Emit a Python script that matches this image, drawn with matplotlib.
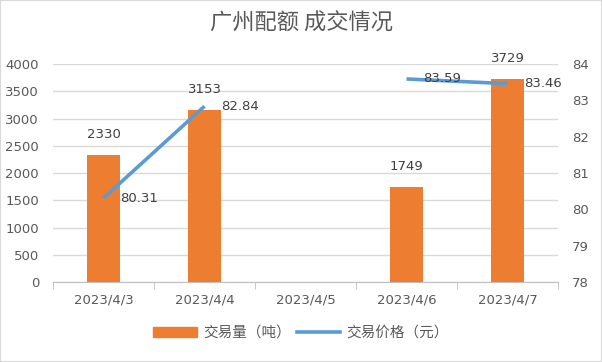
import numpy as np
import matplotlib
matplotlib.use("Agg")
from matplotlib import pyplot as plt

plt.rcParams['font.family'] = ['Noto Sans CJK SC', 'DejaVu Sans']

dates = ["2023/4/3", "2023/4/4", "2023/4/5", "2023/4/6", "2023/4/7"]
volume = [2330, 3153, np.nan, 1749, 3729]
price = [80.31, 82.84, np.nan, 83.59, 83.46]

ORANGE = "#ED7D31"
BLUE = "#5B9BD5"
TXT = "#595959"

fig = plt.figure(figsize=(6.02, 3.62), dpi=100)
fig.patches.append(plt.Rectangle((0, 0), 1, 1, transform=fig.transFigure,
                                 fill=False, edgecolor="#D9D9D9", lw=1.5))
ax = fig.add_axes([0.088, 0.221, 0.839, 0.602])
ax2 = ax.twinx()

x = np.arange(len(dates))
ax.bar(x, volume, width=0.33, color=ORANGE, zorder=2)
for xi, v in zip(x, volume):
    if not np.isnan(v):
        ax.annotate(str(int(v)), (xi, v), xytext=(0, 10), textcoords="offset points",
                    ha="center", va="bottom", fontsize=9.5, color="#404040",
                    family="DejaVu Sans")

ax2.plot(x, price, color=BLUE, lw=2.6, solid_capstyle="butt", zorder=3)
for xi, p in zip(x, price):
    if not np.isnan(p):
        ax2.annotate("%.2f" % p, (xi, p), xytext=(12, 0), textcoords="offset points",
                     ha="left", va="center", fontsize=9.5, color="#404040",
                     family="DejaVu Sans")

ax.set_xlim(-0.5, 4.5)
ax.set_ylim(0, 4000)
ax.set_yticks(np.arange(0, 4001, 500))
ax2.set_ylim(78, 84)
ax2.set_yticks(np.arange(78, 85, 1))

ax.set_xticks(x)
ax.set_xticklabels(dates)
ax.set_xticks(np.arange(-0.5, 5, 1), minor=True)
ax.tick_params(axis="x", which="major", length=0, pad=8, labelsize=9.5, labelcolor=TXT)
ax.tick_params(axis="x", which="minor", length=5, color="#BFBFBF", direction="out")
ax.tick_params(axis="y", length=0, labelsize=9.5, labelcolor=TXT, pad=10)
ax2.tick_params(axis="y", length=0, labelsize=9.5, labelcolor=TXT, pad=10)
for lab in ax.get_xticklabels() + ax.get_yticklabels() + ax2.get_yticklabels():
    lab.set_family("DejaVu Sans")

ax.grid(axis="y", color="#D9D9D9", lw=1, zorder=0)
ax.set_axisbelow(True)
for a in (ax, ax2):
    for s in ("top", "left", "right"):
        a.spines[s].set_visible(False)
    a.spines["bottom"].set_color("#BFBFBF")
ax2.spines["bottom"].set_visible(False)

fig.text(0.5, 0.935, "广州配额 成交情况", ha="center", va="center", fontsize=16, color=TXT)

h1 = plt.Rectangle((0, 0), 1, 1, color=ORANGE)
h2 = plt.Line2D([0], [0], color=BLUE, lw=2.6)
fig.legend([h1, h2], ["交易量（吨）", "交易价格（元）"], loc="center", bbox_to_anchor=(0.5, 0.08),
           ncol=2, frameon=False, fontsize=10.5, labelcolor=TXT, handlelength=3.0,
           handletextpad=0.4, columnspacing=0.4)

fig.savefig("out.png", dpi=100)
